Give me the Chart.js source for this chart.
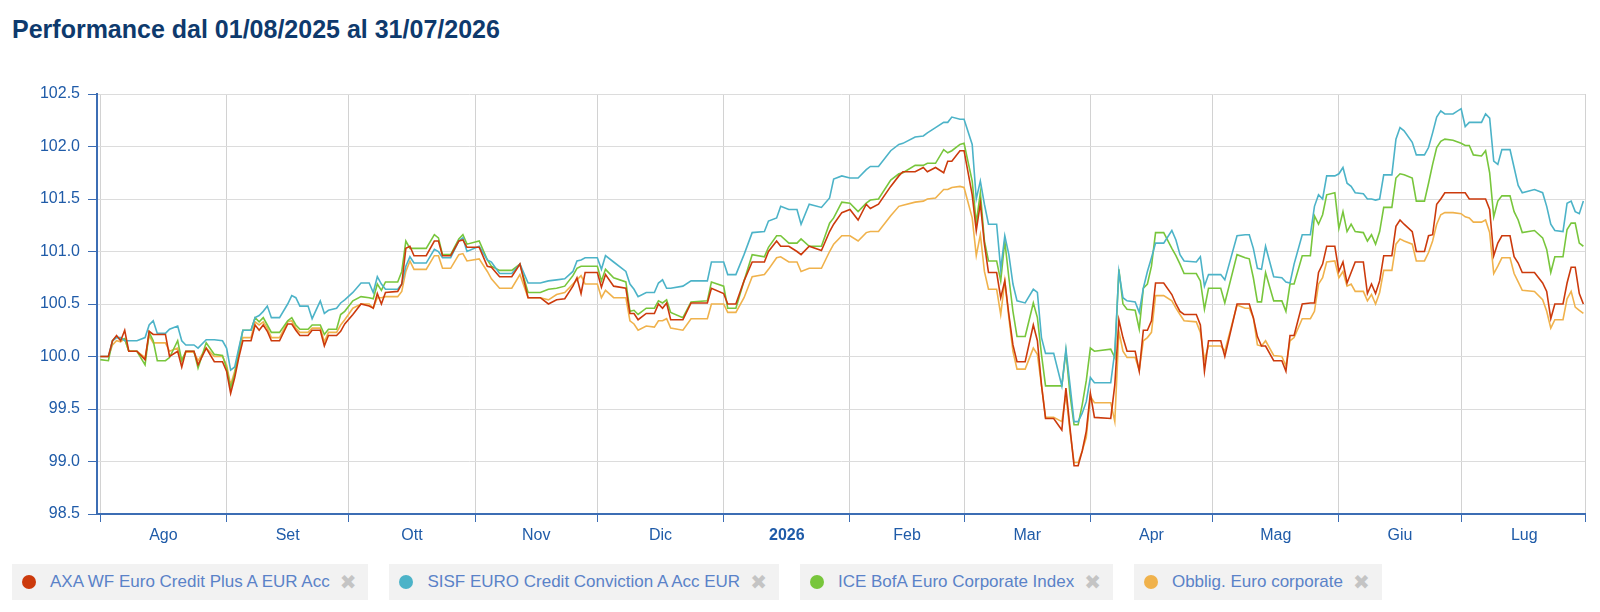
<!DOCTYPE html>
<html>
<head>
<meta charset="utf-8">
<script src="https://cdn.jsdelivr.net/npm/chart.js@4.4.1/dist/chart.umd.min.js"></script>
<style>
    body { margin: 0; width: 1600px; height: 612px; background: #fff; position: relative; overflow: hidden; font-family: "Liberation Sans", Arial, sans-serif; }
    #title { position: absolute; left: 12px; top: 17px; font-size: 25px; line-height: 25px; font-weight: bold; color: #0e3a6d; white-space: nowrap; }
    #chart { position: absolute; left: 0; top: 0; }
    #legend { position: absolute; left: 12px; top: 564px; display: flex; gap: 21px; }
    .item { display: flex; align-items: center; height: 36px; background: #f2f2f2; padding: 0 12px 0 10px; font-size: 17px; color: #5a82c8; white-space: nowrap; }
    .dot { width: 14px; height: 14px; border-radius: 50%; margin-right: 14px; }
    .close { color: #c4c4c4; font-size: 20px; margin-left: 10px; font-family: "DejaVu Sans", sans-serif; }
</style>
</head>
<body>
<div id="title">Performance dal 01/08/2025 al 31/07/2026</div>
<canvas id="chart" width="1600" height="548"></canvas>
<div id="legend"></div>
<script>
// days since 01/08/2025
const dayOffsets = [
    0,2,3,4,5,6,7,9,11,12,13,14,16,17,19,20,21,23,24,26,28,30,31,32,33,34,35,37,38,39,40,41,42,44,46,47,48,49,51,52,54,55,56,58,
    59,60,62,64,66,67,68,69,70,73,74,75,76,77,80,82,83,84,86,88,89,90,93,95,96,98,101,103,105,108,110,112,114,116,117,118,
    119,122,123,124,126,129,130,131,132,134,136,137,138,139,140,143,145,149,150,153,154,156,158,160,163,164,166,167,169,171,172,174,177,179,
    180,182,184,186,188,189,191,194,196,197,200,202,203,205,207,208,209,211,212,214,215,216,217,218,220,221,222,223,224,225,227,229,230,231,232,234,236,237,238,239,240,
    241,242,243,244,248,249,250,251,252,254,255,256,257,258,259,261,263,264,265,266,269,270,271,272,275,276,279,281,282,283,284,285,286,288,290,291,292,293,295,297,298,299,300,
    301,303,304,305,306,307,308,310,311,312,313,314,315,317,318,319,320,322,323,325,326,327,328,329,330,332,334,335,336,337,339,340,
    341,342,343,344,346,347,348,349,352,354,355,356,357,359,360,361,362,363,364
];

const axaValues = [
    100.00,100.00,100.15,100.20,100.15,100.25,100.05,100.05,99.97,100.24,100.21,100.21,100.21,100.00,100.05,99.90,100.05,100.05,99.92,100.08,
    99.95,99.95,99.86,99.65,99.80,99.99,100.15,100.15,100.30,100.25,100.30,100.24,100.15,100.15,100.31,100.31,100.25,100.20,100.20,100.25,
    100.25,100.10,100.20,100.20,
    100.24,100.31,100.40,100.50,100.48,100.46,100.60,100.50,100.61,100.62,100.69,101.03,101.05,100.96,100.96,101.10,101.10,100.96,100.96,101.10,
    101.11,101.04,101.04,100.86,100.85,100.76,100.76,100.88,100.56,100.56,100.50,100.54,100.55,100.67,100.75,100.60,
    100.80,100.80,100.66,100.78,100.67,100.65,100.41,100.41,100.35,100.41,100.41,100.50,100.46,100.51,100.35,100.35,100.51,100.51,100.65,100.60,
    100.50,100.50,100.72,100.90,100.90,101.00,101.10,101.05,101.05,101.00,100.97,101.05,101.01,101.19,
    101.26,101.37,101.40,101.30,101.45,101.41,101.45,101.62,101.72,101.76,101.76,101.80,101.76,101.80,101.75,101.86,101.86,101.96,101.96,101.54,
    101.20,101.46,101.07,100.80,100.80,100.56,100.72,100.40,100.11,99.95,99.95,100.30,100.15,99.73,99.41,99.41,99.30,99.70,99.32,98.96,98.96,
    99.10,99.29,99.65,99.42,99.41,99.73,100.35,100.18,100.05,100.05,99.86,100.25,100.25,100.34,100.70,100.70,100.59,100.50,100.43,100.40,
    100.40,100.30,99.86,100.15,100.15,100.00,100.50,100.50,100.50,100.37,100.19,100.10,100.10,99.96,99.96,99.86,100.20,100.20,100.50,100.51,
    100.51,100.80,100.88,
    101.05,101.05,100.81,100.90,100.70,100.80,100.90,100.90,100.60,100.69,100.60,100.72,100.96,100.96,101.24,101.30,101.26,101.19,101.00,101.00,
    101.15,101.16,101.45,101.50,101.56,101.56,101.56,101.56,101.50,101.50,101.50,101.50,
    101.40,100.96,101.08,101.15,101.15,100.95,100.89,100.80,100.80,100.70,100.62,100.36,100.50,100.50,100.70,100.85,100.85,100.60,100.50
];

const sisfValues = [
    100.00,100.00,100.15,100.18,100.18,100.15,100.15,100.15,100.18,100.30,100.34,100.22,100.22,100.26,100.29,100.15,100.11,100.11,100.08,100.16,
    100.16,100.15,100.08,99.87,99.90,100.08,100.25,100.25,100.37,100.39,100.43,100.48,100.37,100.37,100.50,100.58,100.56,100.48,100.48,100.36,
    100.53,100.41,100.44,100.46,
    100.51,100.54,100.61,100.70,100.70,100.61,100.76,100.69,100.64,100.64,100.69,100.86,100.95,100.89,100.89,101.02,101.00,100.94,100.94,101.10,
    101.13,101.00,101.05,100.92,100.90,100.79,100.79,100.88,100.70,100.70,100.72,100.73,100.74,100.81,100.91,100.92,
    100.94,100.94,100.83,100.96,100.90,100.81,100.69,100.64,100.57,100.61,100.61,100.70,100.73,100.65,100.65,100.67,100.72,100.72,100.90,100.90,
    100.78,100.78,100.97,101.18,101.19,101.29,101.32,101.43,101.40,101.40,101.26,101.45,101.42,101.51,
    101.69,101.72,101.70,101.70,101.78,101.81,101.81,101.96,102.02,102.03,102.09,102.10,102.13,102.18,102.23,102.23,102.28,102.26,102.26,102.02,
    101.50,101.67,101.45,101.26,101.26,100.83,101.15,100.97,100.69,100.53,100.51,100.64,100.61,100.18,100.03,100.03,99.72,100.07,99.73,99.38,99.38,
    99.46,99.57,99.80,99.75,99.75,100.05,100.81,100.56,100.53,100.52,100.42,100.65,100.81,100.94,101.08,101.08,101.20,101.11,100.97,100.91,
    100.90,100.95,100.67,100.78,100.78,100.73,101.15,101.16,101.16,101.03,100.84,100.83,101.05,100.76,100.75,100.71,100.70,100.88,101.16,101.16,
    101.43,101.54,101.50,
    101.72,101.72,101.74,101.80,101.65,101.62,101.56,101.55,101.50,101.50,101.49,101.50,101.73,101.73,102.07,102.18,102.15,102.04,101.92,101.92,
    101.99,102.13,102.28,102.34,102.31,102.31,102.36,102.19,102.23,102.23,102.23,102.31,
    102.27,101.86,101.83,101.97,101.97,101.80,101.63,101.56,101.59,101.56,101.43,101.26,101.20,101.19,101.46,101.48,101.38,101.36,101.48
];

const iceValues = [
    99.97,99.96,100.15,100.19,100.16,100.17,100.05,100.05,99.92,100.23,100.15,99.96,99.96,99.99,100.15,99.96,100.05,100.05,99.89,100.13,
    100.02,100.01,99.89,99.70,99.83,100.05,100.25,100.25,100.37,100.33,100.37,100.30,100.23,100.23,100.34,100.37,100.30,100.26,100.26,100.30,
    100.30,100.21,100.26,100.26,
    100.40,100.43,100.53,100.57,100.56,100.55,100.69,100.63,100.71,100.71,100.81,101.10,101.03,101.03,101.03,101.16,101.13,100.97,100.97,101.12,
    101.16,101.07,101.10,100.92,100.86,100.82,100.82,100.88,100.61,100.61,100.64,100.65,100.67,100.77,100.84,100.86,
    100.86,100.86,100.72,100.83,100.75,100.71,100.43,100.44,100.40,100.46,100.46,100.53,100.51,100.54,100.42,100.37,100.52,100.53,100.71,100.67,
    100.46,100.46,100.72,100.97,100.95,101.04,101.15,101.15,101.08,101.08,101.12,101.05,101.05,101.27,
    101.32,101.47,101.46,101.38,101.46,101.49,101.50,101.68,101.74,101.75,101.82,101.82,101.84,101.84,101.97,101.94,101.96,102.02,102.03,101.67,
    101.27,101.56,101.10,100.91,100.91,100.72,101.10,100.75,100.43,100.19,100.19,100.51,100.37,100.02,99.72,99.72,99.72,100.05,99.64,99.35,99.35,
    99.54,99.77,100.08,100.05,100.07,99.99,100.83,100.50,100.45,100.44,100.26,100.65,100.69,100.86,101.18,101.18,101.03,100.96,100.88,100.79,
    100.79,100.72,100.45,100.65,100.65,100.51,100.97,100.94,100.93,100.75,100.52,100.52,100.80,100.53,100.53,100.43,100.69,100.69,100.96,100.96,
    101.34,101.26,101.35,
    101.54,101.56,101.22,101.38,101.19,101.26,101.19,101.18,101.10,101.16,101.07,101.19,101.42,101.42,101.70,101.74,101.73,101.70,101.48,101.48,
    101.65,101.83,101.99,102.05,102.07,102.06,102.03,102.01,102.01,101.92,101.91,101.96,
    101.75,101.33,101.48,101.53,101.53,101.38,101.30,101.18,101.20,101.13,101.02,100.80,100.95,100.95,101.21,101.27,101.27,101.08,101.05
];

const obbligValues = [
    100.00,100.00,100.11,100.15,100.14,100.17,100.05,100.05,99.99,100.20,100.13,100.13,100.13,100.05,100.08,99.96,100.04,100.04,99.96,100.08,
    100.00,100.00,99.92,99.73,99.86,100.02,100.18,100.18,100.33,100.30,100.33,100.27,100.18,100.18,100.33,100.34,100.27,100.23,100.23,100.27,
    100.27,100.14,100.23,100.23,
    100.30,100.35,100.46,100.50,100.50,100.46,100.56,100.56,100.57,100.57,100.62,100.81,100.91,100.83,100.83,100.96,100.96,100.84,100.84,100.97,
    100.98,100.91,100.93,100.81,100.74,100.65,100.65,100.78,100.56,100.56,100.54,100.59,100.61,100.69,100.73,100.77,
    100.69,100.69,100.56,100.63,100.56,100.56,100.34,100.31,100.25,100.29,100.28,100.34,100.34,100.36,100.27,100.25,100.36,100.36,100.50,100.50,
    100.42,100.42,100.56,100.76,100.78,100.83,100.94,100.95,100.90,100.90,100.81,100.84,100.84,101.00,
    101.07,101.15,101.15,101.10,101.18,101.19,101.19,101.34,101.43,101.44,101.47,101.48,101.50,101.51,101.59,101.59,101.61,101.62,101.61,101.32,
    100.96,101.16,100.81,100.64,100.64,100.40,100.72,100.37,100.05,99.88,99.88,100.08,100.02,99.73,99.42,99.42,99.38,99.64,99.29,98.99,98.99,
    99.10,99.23,99.62,99.56,99.56,99.38,100.24,100.05,99.99,99.99,99.87,100.15,100.18,100.23,100.58,100.58,100.53,100.46,100.40,100.34,
    100.33,100.23,99.97,100.10,100.10,100.05,100.49,100.46,100.46,100.37,100.11,100.10,100.15,100.01,100.00,99.91,100.15,100.18,100.36,100.36,
    100.43,100.69,100.75,
    100.90,100.91,100.75,100.81,100.67,100.69,100.62,100.62,100.53,100.59,100.50,100.61,100.82,100.82,101.07,101.12,101.10,101.07,100.91,100.91,
    100.99,101.10,101.26,101.35,101.37,101.37,101.36,101.33,101.32,101.28,101.28,101.30,
    101.18,100.79,100.86,100.94,100.94,100.79,100.71,100.63,100.62,100.54,100.43,100.27,100.35,100.35,100.55,100.62,100.47,100.44,100.41
];

const seriesNames = ['AXA WF Euro Credit Plus A EUR Acc', 'SISF EURO Credit Conviction A Acc EUR', 'ICE BofA Euro Corporate Index', 'Obblig. Euro corporate'];
const seriesColors = ['#cc3a0c', '#4cb3c8', '#78c63c', '#f0b24c'];

// month boundaries (days since 01/08/2025) and their names
const monthStarts = [0, 31, 61, 92, 122, 153, 184, 212, 243, 273, 304, 334, 365];
const monthLabels = ['Ago', 'Set', 'Ott', 'Nov', 'Dic', '2026', 'Feb', 'Mar', 'Apr', 'Mag', 'Giu', 'Lug'];

const xMin = -0.8;
const xMax = 364.4;
const axisBlue = '#3c6db4';
const labelBlue = '#1f5ba8';
const fontFamily = '"Liberation Sans", Arial, sans-serif';

const labelAt = {};
monthLabels.forEach((m, i) => {
    labelAt[(monthStarts[i] + monthStarts[i + 1]) / 2] = m;
});

function isBoundary (v) {
    return monthStarts.includes(v) || v === xMax;
}

const xTicks = monthStarts.filter(d => d < xMax)
    .concat(Object.keys(labelAt).map(Number))
    .concat([xMax])
    .sort((a, b) => a - b)
    .map(v => ({ value: v }));

function toPoints (values) {
    return values.map((v, i) => ({ x: dayOffsets[i], y: v }));
}

const seriesValues = [axaValues, sisfValues, iceValues, obbligValues];

const ctx = document.getElementById('chart').getContext('2d');

new Chart(ctx, {
    type: 'line',
    data: {
        datasets: seriesValues.map((vals, i) => ({
            label: seriesNames[i],
            data: toPoints(vals),
            borderColor: seriesColors[i],
            backgroundColor: seriesColors[i],
            borderWidth: 1.6,
            pointRadius: 0,
            tension: 0,
            fill: false
        }))
    },
    options: {
        responsive: false,
        animation: false,
        layout: {
            padding: { left: 0, right: 15, top: 94, bottom: 0 }
        },
        plugins: {
            legend: { display: false },
            tooltip: { enabled: false }
        },
        scales: {
            x: {
                type: 'linear',
                min: xMin,
                max: xMax,
                afterBuildTicks: scale => {
                    scale.ticks = xTicks.map(t => ({ value: t.value }));
                },
                afterFit: scale => {
                    scale.height = 34;
                },
                border: { color: axisBlue, width: 2 },
                grid: {
                    color: c => (c.tick && isBoundary(c.tick.value)) ? '#d2d2d2' : 'rgba(0,0,0,0)',
                    tickColor: c => (c.tick && isBoundary(c.tick.value)) ? axisBlue : 'rgba(0,0,0,0)',
                    tickLength: 8,
                    lineWidth: 1
                },
                ticks: {
                    autoSkip: false,
                    maxRotation: 0,
                    padding: 4,
                    color: labelBlue,
                    callback: value => labelAt[value] || '',
                    font: c => ({
                        family: fontFamily,
                        size: 16,
                        weight: (c.tick && labelAt[c.tick.value] === '2026') ? 'bold' : 'normal'
                    })
                }
            },
            y: {
                min: 98.5,
                max: 102.5,
                afterFit: scale => {
                    scale.width = 97;
                },
                border: { color: axisBlue, width: 2 },
                grid: {
                    color: '#dcdcdc',
                    tickColor: axisBlue,
                    tickLength: 9,
                    lineWidth: 1
                },
                ticks: {
                    stepSize: 0.5,
                    padding: 8,
                    color: labelBlue,
                    font: { family: fontFamily, size: 16 },
                    callback: value => value.toFixed(1)
                }
            }
        }
    }
});

const legend = document.getElementById('legend');
seriesNames.forEach((name, i) => {
    const item = document.createElement('div');
    item.className = 'item';
    item.innerHTML = '<span class="dot" style="background:' + seriesColors[i] + '"></span>' +
        '<span>' + name + '</span><span class="close">\u2716</span>';
    legend.appendChild(item);
});
</script>
</body>
</html>
